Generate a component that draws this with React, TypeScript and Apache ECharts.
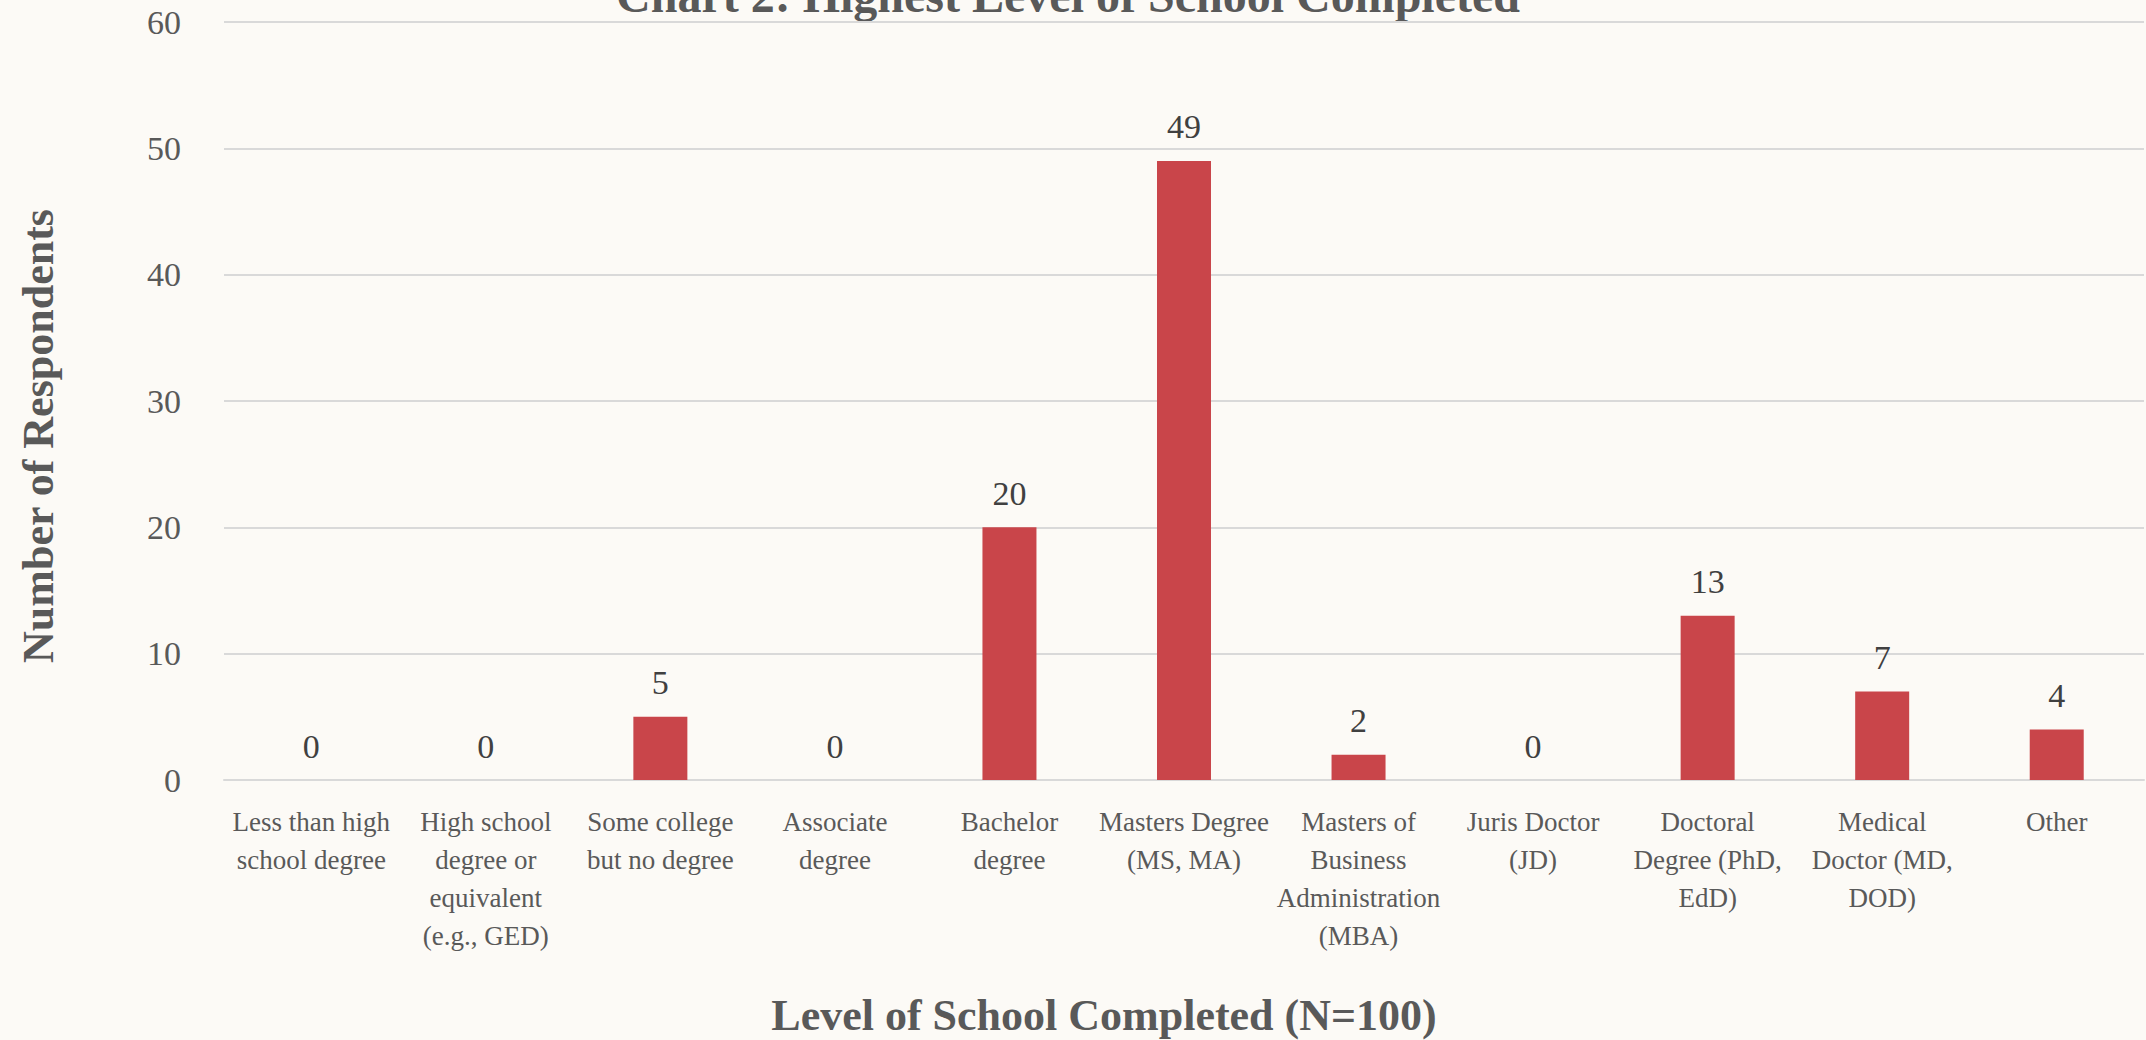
import React, { useEffect, useRef } from "react";
import * as echarts from "echarts";

const categories = [
  "Less than high school degree",
  "High school degree or equivalent (e.g., GED)",
  "Some college but no degree",
  "Associate degree",
  "Bachelor degree",
  "Masters Degree (MS, MA)",
  "Masters of Business Administration (MBA)",
  "Juris Doctor (JD)",
  "Doctoral Degree (PhD, EdD)",
  "Medical Doctor (MD, DOD)",
  "Other",
];

const tickLabels = [
  "Less than high\nschool degree",
  "High school\ndegree or\nequivalent\n(e.g., GED)",
  "Some college\nbut no degree",
  "Associate\ndegree",
  "Bachelor\ndegree",
  "Masters Degree\n(MS, MA)",
  "Masters of\nBusiness\nAdministration\n(MBA)",
  "Juris Doctor\n(JD)",
  "Doctoral\nDegree (PhD,\nEdD)",
  "Medical\nDoctor (MD,\nDOD)",
  "Other",
];

const respondents = [0, 0, 5, 0, 20, 49, 2, 0, 13, 7, 4];

const titleText = "Chart 2: Highest Level of School Completed";
const xAxisTitle = "Level of School Completed (N=100)";
const yAxisTitle = "Number of Respondents";

const FONT = "'Liberation Serif', 'DejaVu Serif', serif";

export default function App() {
  const ref = useRef<HTMLDivElement>(null);

  useEffect(() => {
    document.body.style.margin = "0";
    if (!ref.current) return;
    const chart = echarts.init(ref.current, null, { renderer: "svg" });
    chart.setOption({
      animation: false,
      backgroundColor: "#FCFAF6",
      textStyle: { fontFamily: FONT },
      grid: { left: 224, right: 2, top: 22, bottom: 260 },
      graphic: [
        {
          type: "text",
          x: 1068,
          y: 19,
          style: {
            text: titleText,
            fontFamily: FONT,
            fontSize: 48,
            fontWeight: "bold",
            fill: "#595959",
            textAlign: "center",
            textVerticalAlign: "bottom",
          },
        },
        {
          type: "text",
          x: 1104,
          y: 1015,
          style: {
            text: xAxisTitle,
            fontFamily: FONT,
            fontSize: 44,
            fontWeight: "bold",
            fill: "#595959",
            textAlign: "center",
            textVerticalAlign: "middle",
          },
        },
        {
          type: "text",
          x: 38,
          y: 436,
          rotation: Math.PI / 2,
          style: {
            text: yAxisTitle,
            fontFamily: FONT,
            fontSize: 44,
            fontWeight: "bold",
            fill: "#595959",
            textAlign: "center",
            textVerticalAlign: "middle",
          },
        },
      ],
      xAxis: {
        type: "category",
        data: categories,
        axisTick: { show: false },
        axisLine: { show: true, lineStyle: { color: "#D9D9D9", width: 2 } },
        axisLabel: {
          interval: 0,
          margin: 23,
          color: "#595959",
          fontFamily: FONT,
          fontSize: 27,
          lineHeight: 38,
          formatter: (_v: string, i: number) => tickLabels[i],
        },
      },
      yAxis: {
        type: "value",
        min: 0,
        max: 60,
        interval: 10,
        axisLine: { show: false },
        axisTick: { show: false },
        axisLabel: {
          margin: 43,
          color: "#595959",
          fontFamily: FONT,
          fontSize: 34,
        },
        splitLine: { lineStyle: { color: "#D9D9D9", width: 2 } },
      },
      series: [
        {
          type: "bar",
          data: respondents,
          barWidth: 54,
          itemStyle: { color: "#C9454A" },
          label: {
            show: true,
            position: "top",
            distance: 17,
            color: "#404040",
            fontFamily: FONT,
            fontSize: 34,
          },
        },
      ],
    });
    return () => chart.dispose();
  }, []);

  return <div ref={ref} style={{ width: 2146, height: 1040 }} />;
}
